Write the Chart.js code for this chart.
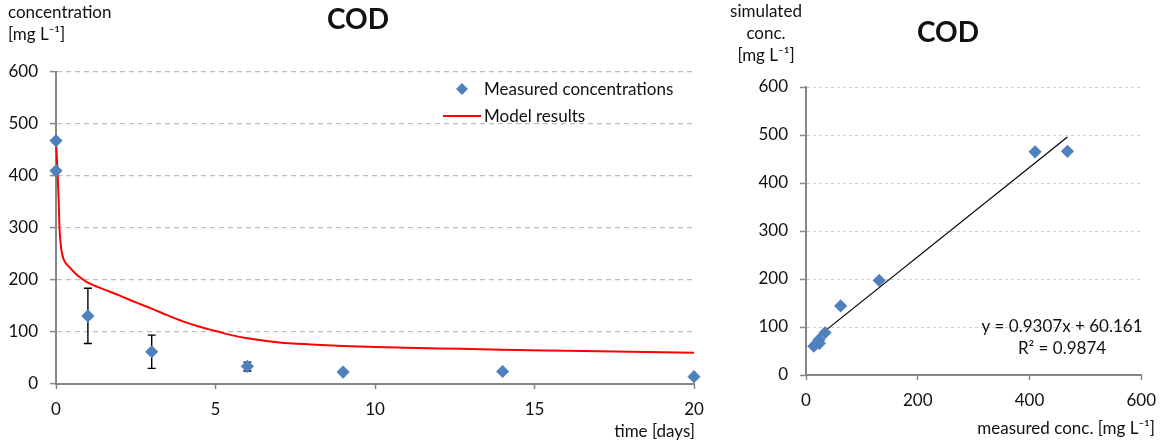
<!DOCTYPE html>
<html>
<head>
<meta charset="utf-8">
<script src="https://cdn.jsdelivr.net/npm/chart.js@4.4.1/dist/chart.umd.min.js"></script>
<style>
  html, body { margin: 0; padding: 0; background: #ffffff; }
  #wrap { position: relative; width: 1166px; height: 446px; overflow: hidden; }
  #left { position: absolute; left: 0; top: 0; }
  #right { position: absolute; left: 720px; top: 0; }
</style>
</head>
<body>
<div id="wrap">
  <canvas id="left" width="720" height="446"></canvas>
  <canvas id="right" width="446" height="446"></canvas>
</div>
<script>
// Measured COD over time, with error-bar bounds (null = no bar)
const measT = [0, 0, 1, 3, 6, 9, 14, 20];
const measC = [468, 410, 131, 62, 34, 23, 24, 14];
const errLow = [null, null, 78, 30, 25, null, null, null];
const errHigh = [null, null, 184, 94, 42, null, null, null];

// Simulated COD curve
const modelT = [0, 0.04, 0.08, 0.11, 0.16, 0.24, 0.4, 0.6, 0.8, 1, 1.5, 2, 2.5, 3, 3.5, 4, 4.5, 5, 5.5, 6, 7, 8, 9, 10, 12, 14, 16, 18, 20];
const modelC = [468, 420, 360, 300, 262, 240, 226, 213, 203, 195, 182, 170, 157, 145, 132, 120, 110, 102, 94, 88, 80, 76, 73, 71, 68.5, 66, 64, 62, 60];

// Simulated value at each measurement time (for the parity plot)
const simC = [466, 465, 197, 144, 88, 73, 66, 60];

// Linear fit of simulated vs measured
const fitSlope = 0.9307;
const fitIntercept = 60.161;
const fitR2 = 0.9874;

// Axis ticks
const timeTicks = [0, 5, 10, 15, 20];
const concTicks = [0, 100, 200, 300, 400, 500, 600];
const parityTicks = [0, 200, 400, 600];

const FONT = 'Lato, "Open Sans", sans-serif';
const FS = 17;
const AXIS = '#868686';
const TXT = '#111111';
const BLUE = '#4F81BD';
const RED = '#FF0000';

Chart.defaults.font.family = FONT;
Chart.defaults.font.size = FS;
Chart.defaults.color = TXT;
Chart.defaults.animation = false;

function txt(ctx, s, x, y, align, font) {
  ctx.save();
  ctx.font = font || (FS + 'px ' + FONT);
  ctx.fillStyle = TXT;
  ctx.textAlign = align || 'left';
  ctx.textBaseline = 'alphabetic';
  ctx.fillText(s, x, y);
  ctx.restore();
}

// ---------- time series chart ----------
const errorBars = {
  id: 'errorBars',
  beforeDatasetsDraw(chart) {
    const {ctx, scales: {x, y}} = chart;
    ctx.save();
    ctx.strokeStyle = '#000000';
    ctx.lineWidth = 1.4;
    measT.forEach((t, i) => {
      if (errLow[i] == null) return;
      const px = x.getPixelForValue(t);
      const y0 = y.getPixelForValue(errLow[i]);
      const y1 = y.getPixelForValue(errHigh[i]);
      ctx.beginPath();
      ctx.moveTo(px, y0); ctx.lineTo(px, y1);
      ctx.moveTo(px - 4, y0); ctx.lineTo(px + 4, y0);
      ctx.moveTo(px - 4, y1); ctx.lineTo(px + 4, y1);
      ctx.stroke();
    });
    ctx.restore();
  }
};

const leftLabels = {
  id: 'leftLabels',
  afterDraw(chart) {
    const ctx = chart.ctx;
    txt(ctx, 'concentration', 8, 18);
    txt(ctx, '[mg L\u207B\u00B9]', 8, 40);
    txt(ctx, 'COD', 358, 29, 'center', 'bold 28px ' + FONT);
    txt(ctx, 'time [days]', 695, 437, 'right');
    // legend
    const ds = chart.data.datasets;
    ctx.save();
    ctx.fillStyle = BLUE;
    ctx.beginPath();
    ctx.moveTo(462, 83); ctx.lineTo(468, 89); ctx.lineTo(462, 95); ctx.lineTo(456, 89);
    ctx.closePath(); ctx.fill();
    ctx.strokeStyle = RED; ctx.lineWidth = 2;
    ctx.beginPath(); ctx.moveTo(443, 116); ctx.lineTo(481, 116); ctx.stroke();
    ctx.restore();
    txt(ctx, ds[0].label, 484, 95);
    txt(ctx, ds[1].label, 484, 122);
  }
};

new Chart(document.getElementById('left'), {
  type: 'scatter',
  data: {
    datasets: [
      {
        label: 'Measured concentrations',
        data: measT.map((t, i) => ({x: t, y: measC[i]})),
        pointStyle: 'rectRot',
        pointRadius: 6.6,
        pointBackgroundColor: BLUE,
        pointBorderColor: BLUE,
        pointBorderWidth: 0,
        clip: false
      },
      {
        label: 'Model results',
        data: modelT.map((t, i) => ({x: t, y: modelC[i]})),
        showLine: true,
        borderColor: RED,
        borderWidth: 2,
        pointRadius: 0,
        cubicInterpolationMode: 'monotone',
        clip: false
      }
    ]
  },
  options: {
    responsive: false,
    layout: {padding: {top: 72, right: 26, bottom: 0, left: 0}},
    plugins: {legend: {display: false}, tooltip: {enabled: false}},
    scales: {
      x: {
        type: 'linear',
        min: timeTicks[0], max: timeTicks[timeTicks.length - 1],
        afterFit(s) { s.height = 62; },
        afterBuildTicks(s) { s.ticks = timeTicks.map(v => ({value: v})); },
        ticks: {padding: 10, color: TXT},
        grid: {drawOnChartArea: false, tickLength: 5, tickColor: AXIS, tickWidth: 1.5},
        border: {color: AXIS, width: 2}
      },
      y: {
        min: concTicks[0], max: concTicks[concTicks.length - 1],
        afterFit(s) { s.width = 56; },
        afterBuildTicks(s) { s.ticks = concTicks.map(v => ({value: v})); },
        ticks: {padding: 12, color: TXT},
        grid: {
          color: c => c.tick && c.tick.value === 0 ? 'rgba(0,0,0,0)' : '#BEBEBE',
          lineWidth: 1.2,
          tickLength: 6, tickColor: AXIS, tickWidth: 1.5
        },
        border: {color: AXIS, width: 2, dash: [5, 4]}
      }
    }
  },
  plugins: [errorBars, leftLabels]
});

// ---------- parity chart ----------
const xs = measC;
const fitX = [Math.min(...xs), Math.max(...xs)];

const rightLabels = {
  id: 'rightLabels',
  afterDraw(chart) {
    const ctx = chart.ctx;
    txt(ctx, 'simulated', 46, 17, 'center');
    txt(ctx, 'conc.', 46, 39, 'center');
    txt(ctx, '[mg L\u207B\u00B9]', 46, 61, 'center');
    txt(ctx, 'COD', 228, 42, 'center', 'bold 28px ' + FONT);
    txt(ctx, 'measured conc. [mg L\u207B\u00B9]', 435, 434, 'right');
    txt(ctx, 'y = ' + fitSlope + 'x + ' + fitIntercept, 342, 332, 'center');
    txt(ctx, 'R\u00B2 = ' + fitR2, 342, 354, 'center');
  }
};

new Chart(document.getElementById('right'), {
  type: 'scatter',
  data: {
    datasets: [
      {
        label: 'simulated vs measured',
        data: xs.map((v, i) => ({x: v, y: simC[i]})),
        pointStyle: 'rectRot',
        pointRadius: 6.6,
        pointBackgroundColor: BLUE,
        pointBorderColor: BLUE,
        pointBorderWidth: 0,
        clip: false
      },
      {
        label: 'Linear fit',
        data: fitX.map(v => ({x: v, y: fitSlope * v + fitIntercept})),
        showLine: true,
        borderColor: '#000000',
        borderWidth: 1.2,
        pointRadius: 0
      }
    ]
  },
  options: {
    responsive: false,
    layout: {padding: {top: 87, right: 19, bottom: 0, left: 0}},
    plugins: {legend: {display: false}, tooltip: {enabled: false}},
    scales: {
      x: {
        type: 'linear',
        min: parityTicks[0], max: parityTicks[parityTicks.length - 1],
        afterFit(s) { s.height = 71; },
        afterBuildTicks(s) { s.ticks = parityTicks.map(v => ({value: v})); },
        ticks: {padding: 10, color: TXT},
        grid: {drawOnChartArea: false, tickLength: 5, tickColor: AXIS, tickWidth: 1.5},
        border: {color: AXIS, width: 2}
      },
      y: {
        min: concTicks[0], max: concTicks[concTicks.length - 1],
        afterFit(s) { s.width = 86; },
        afterBuildTicks(s) { s.ticks = concTicks.map(v => ({value: v})); },
        ticks: {padding: 12, color: TXT},
        grid: {
          color: c => c.tick && c.tick.value === 0 ? 'rgba(0,0,0,0)' : '#CFCFCF',
          lineWidth: 1,
          tickLength: 6, tickColor: AXIS, tickWidth: 1.5
        },
        border: {color: AXIS, width: 2, dash: [3, 3]}
      }
    }
  },
  plugins: [rightLabels]
});
</script>
</body>
</html>
